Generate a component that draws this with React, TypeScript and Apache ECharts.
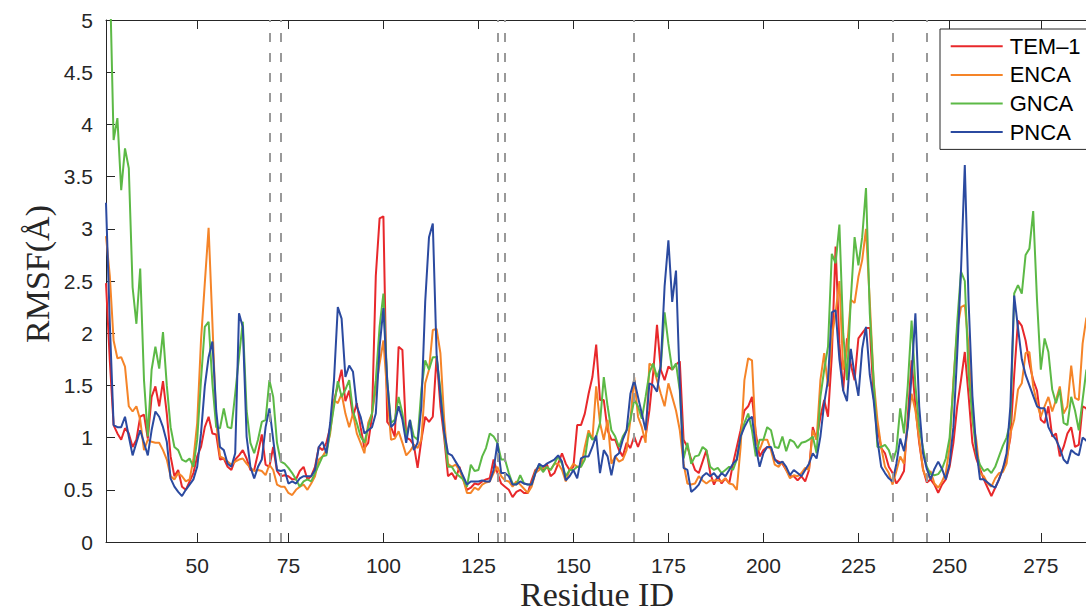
import React, { useEffect, useRef } from 'react';
import * as echarts from 'echarts';

// Residue numbering (Ambler-like): 26..290 with three residues absent from the alignment
const FIRST_RESIDUE = 26;
const LAST_RESIDUE = 290;
const MISSING_RESIDUES = [55, 239, 253];
const RESIDUES: string[] = [];
for (let r = FIRST_RESIDUE; r <= LAST_RESIDUE; r++) {
  if (!MISSING_RESIDUES.includes(r)) RESIDUES.push(String(r));
}

const TICK_RESIDUES = [50, 75, 100, 125, 150, 175, 200, 225, 250, 275];
const MARKER_RESIDUES = ['70', '73', '130', '132', '166', '234', '244'];

const SERIES_NAMES = ['TEM–1', 'ENCA', 'GNCA', 'PNCA'];
const SERIES_COLORS = ['#e8282b', '#f58428', '#5cb946', '#2b4aa0'];

const TEM1 = [
  2.48, 1.74, 1.12, 1.04, 0.98, 1.09, 1.04, 0.91, 0.98, 1.2,
  1.22, 0.99, 1.39, 1.49, 1.3, 1.54, 1.23, 0.82, 0.63, 0.69,
  0.53, 0.5, 0.58, 0.66, 0.82, 0.91, 1.1, 1.2, 1.04, 1.03,
  0.79, 0.8, 0.72, 0.69, 0.79, 0.83, 0.88, 0.8, 0.69, 0.69,
  0.85, 1.03, 0.74, 0.72, 0.91, 0.68, 0.63, 0.64, 0.63, 0.6,
  0.6, 0.68, 0.72, 0.6, 0.63, 0.72, 0.91, 0.88, 0.95, 1.1,
  1.35, 1.5, 1.65, 1.35, 1.45, 1.2, 1.33, 1.1, 0.9, 0.95,
  1.2, 2.55, 3.1, 3.12, 1.15, 1.1, 1.01, 1.87, 1.84, 1.0,
  0.98, 0.93, 0.71, 0.98, 1.2, 1.15, 1.2, 1.78, 1.3, 1.0,
  0.63, 0.66, 0.6, 0.72, 0.6, 0.5, 0.52, 0.56, 0.55, 0.58,
  0.6, 0.61, 0.79, 0.66, 0.56, 0.53, 0.5, 0.43, 0.48, 0.5,
  0.47, 0.47, 0.59, 0.69, 0.72, 0.69, 0.75, 0.63, 0.66, 0.75,
  0.85, 0.75, 0.69, 0.72, 1.12, 1.12, 1.23, 1.42, 1.58, 1.89,
  1.36, 1.36, 1.07, 0.98, 0.98, 0.88, 0.82, 0.95, 0.9, 1.01,
  0.91, 1.01, 1.01, 1.26, 1.62, 2.08, 1.65, 1.55, 1.68, 1.65,
  1.7, 1.73, 0.98, 0.91, 0.79, 0.69, 0.66, 0.77, 0.88, 0.66,
  0.55, 0.63, 0.56, 0.61, 0.56, 0.75, 0.91, 1.07, 1.26, 1.3,
  1.39, 1.04, 0.82, 0.88, 0.91, 0.9, 0.79, 0.77, 0.75, 0.69,
  0.63, 0.63, 0.59, 0.63, 0.58, 0.69, 1.1, 0.98, 1.2, 1.36,
  1.2, 1.78, 2.83, 1.9, 1.45, 1.95, 1.7, 1.55, 1.95, 2.0,
  2.05, 2.05, 1.39, 1.1, 0.9, 0.85, 0.72, 0.66, 0.56, 0.61,
  0.68, 1.2, 1.74, 1.3, 0.95, 0.7, 0.57, 0.6, 0.55, 0.47,
  0.55, 0.6, 0.72, 0.95, 1.3, 1.55, 1.82, 1.4, 0.95, 0.8,
  0.7, 0.6, 0.52, 0.44, 0.52, 0.6, 0.7, 0.8, 1.0, 1.6,
  2.12, 2.07, 1.93, 1.71, 1.55, 1.45, 1.17, 1.14, 1.3, 1.01,
  1.04, 0.82, 0.91, 1.04, 1.1, 0.91, 0.93, 1.3, 1.28, 1.15,
  1.2, 1.35,
];

const ENCA = [
  2.93, 2.55, 1.93, 1.76, 1.77, 1.68, 1.3, 1.25, 1.3, 1.17,
  0.88, 0.98, 0.96, 0.95, 0.95, 0.88, 0.79, 0.63, 0.6, 0.66,
  0.63, 0.58, 0.6, 0.79, 1.14, 1.93, 2.48, 3.01, 2.1, 1.15,
  0.82, 0.8, 0.77, 0.74, 0.77, 0.79, 0.8, 0.75, 0.71, 0.68,
  0.69, 0.68, 0.64, 0.74, 0.69, 0.55, 0.53, 0.53, 0.47, 0.45,
  0.5, 0.53, 0.55, 0.5, 0.56, 0.63, 0.79, 0.82, 0.88, 1.04,
  1.36, 1.33, 1.42, 1.23, 1.1, 1.23, 1.04, 0.95, 0.85, 1.14,
  1.23, 1.46, 1.71, 1.93, 1.42, 0.98, 0.99, 1.06, 0.95, 0.83,
  0.87, 0.93, 0.9, 0.98, 1.52, 1.65, 2.03, 2.04, 1.81, 1.17,
  0.75, 0.72, 0.74, 0.69, 0.6, 0.47, 0.47, 0.52, 0.5, 0.55,
  0.57, 0.58, 0.66, 0.72, 0.63, 0.59, 0.58, 0.53, 0.58, 0.55,
  0.51, 0.47, 0.53, 0.66, 0.69, 0.71, 0.71, 0.69, 0.75, 0.75,
  0.69, 0.58, 0.69, 0.75, 0.72, 0.72, 0.91, 1.07, 0.98, 1.49,
  1.14, 0.98, 1.17, 0.75, 0.82, 0.77, 0.79, 0.88, 1.17, 1.58,
  1.2, 1.1, 0.95, 1.71, 1.68, 1.55, 1.42, 1.3, 1.52, 1.39,
  1.26, 1.07, 0.75, 0.56, 0.55, 0.56, 0.63, 0.59, 0.56, 0.59,
  0.59, 0.59, 0.58, 0.61, 0.56, 0.55, 0.5, 0.91, 1.55, 1.76,
  1.74, 0.98, 0.88, 0.98, 0.98, 0.88, 0.74, 0.72, 0.77, 0.69,
  0.61, 0.64, 0.63, 0.66, 0.71, 0.69, 1.07, 0.98, 1.55, 1.81,
  1.49, 1.95, 2.2, 2.5, 1.65, 1.85, 2.32, 2.29, 2.54, 2.7,
  3.0, 2.3, 1.55, 1.17, 0.91, 0.72, 0.66, 0.55, 0.68, 0.82,
  0.75, 1.14, 1.42, 1.26, 0.98, 0.69, 0.6, 0.68, 0.56, 0.52,
  0.58, 0.66, 0.91, 1.55, 2.03, 2.25, 2.27, 1.87, 1.17, 0.98,
  0.66, 0.63, 0.56, 0.53, 0.61, 0.66, 0.67, 0.75, 1.04, 1.17,
  1.46, 1.52, 1.81, 1.82, 1.49, 1.33, 1.2, 1.3, 1.39, 1.25,
  1.36, 1.49, 1.23, 1.3, 1.69, 1.38, 1.36, 1.9, 2.15, 1.9,
  1.7, 1.8,
];

const GNCA = [
  6.2, 5.45, 3.85, 4.06, 3.37, 3.77, 3.58, 2.44, 2.09, 2.62,
  1.55, 1.01, 1.65, 1.87, 1.66, 2.01, 1.5, 1.1, 0.91, 0.88,
  0.79, 0.77, 0.8, 0.72, 0.98, 1.55, 2.06, 2.11, 1.52, 1.1,
  1.09, 1.28, 1.1, 1.09, 1.42, 1.77, 2.11, 1.26, 0.95, 0.85,
  0.98, 1.15, 1.17, 1.55, 1.39, 0.95, 0.77, 0.75, 0.71, 0.66,
  0.6, 0.53, 0.58, 0.6, 0.58, 0.66, 0.74, 0.82, 0.83, 1.07,
  1.3, 1.54, 1.39, 1.46, 1.55, 1.25, 1.14, 1.01, 0.95, 1.1,
  1.23, 1.55, 2.06, 2.38, 1.55, 1.14, 1.17, 1.39, 1.23, 1.01,
  1.17, 1.01, 0.98, 1.46, 1.74, 1.65, 1.77, 1.77, 1.46, 1.04,
  0.72, 0.72, 0.66, 0.63, 0.6, 0.53, 0.74, 0.68, 0.69, 0.82,
  0.9, 1.04, 1.01, 0.95, 0.79, 0.79, 0.66, 0.56, 0.55, 0.64,
  0.56, 0.55, 0.55, 0.67, 0.74, 0.67, 0.72, 0.69, 0.75, 0.82,
  0.75, 0.63, 0.69, 0.69, 0.72, 0.72, 0.79, 1.04, 0.98, 1.01,
  1.14, 1.58, 1.3, 1.07, 1.01, 0.91, 1.01, 1.07, 1.17, 1.36,
  1.3, 1.18, 1.39, 1.62, 1.71, 1.58, 1.68, 2.2, 1.9, 1.65,
  1.71, 1.45, 0.8, 0.95, 0.75, 0.82, 0.83, 0.91, 0.88, 0.72,
  0.69, 0.71, 0.66, 0.69, 0.72, 0.69, 0.79, 1.01, 1.14, 1.23,
  1.07, 0.82, 0.98, 0.98, 1.1, 1.07, 0.91, 0.9, 1.01, 0.87,
  0.98, 0.96, 0.9, 0.95, 0.96, 0.98, 1.01, 0.85, 1.39, 1.65,
  1.87, 2.76, 2.67, 3.04, 2.0, 1.55, 2.32, 2.92, 2.65, 2.92,
  3.39, 2.19, 1.55, 0.91, 0.91, 0.93, 0.88, 0.77, 0.88, 1.28,
  1.04, 1.5, 2.12, 1.5, 1.1, 0.9, 0.72, 0.65, 0.64, 0.65,
  0.7, 0.8, 1.0, 1.5, 2.1, 2.59, 2.5, 1.6, 1.2, 0.85,
  0.74, 0.68, 0.7, 0.66, 0.72, 0.82, 0.92, 1.0, 1.15, 2.38,
  2.46, 2.38, 2.75, 2.81, 3.17, 2.32, 1.65, 1.95, 1.82, 1.46,
  1.33, 1.46, 1.14, 1.12, 1.39, 1.26, 1.07, 1.36, 1.65, 1.5,
  1.4, 1.6,
];

const PNCA = [
  3.25, 2.1, 1.12, 1.1, 1.1, 1.2, 1.01, 0.83, 0.95, 1.07,
  0.95, 0.83, 1.07, 1.25, 1.2, 1.1, 0.96, 0.61, 0.53, 0.48,
  0.44, 0.5, 0.55, 0.6, 0.72, 1.04, 1.49, 1.77, 1.92, 1.26,
  0.91, 0.88, 0.75, 0.72, 0.85, 2.19, 2.06, 1.01, 0.72, 0.61,
  0.72, 0.79, 1.1, 1.28, 0.98, 0.69, 0.68, 0.69, 0.56, 0.58,
  0.56, 0.61, 0.63, 0.63, 0.63, 0.69, 0.91, 0.96, 0.85, 1.14,
  1.55, 2.25, 2.14, 1.58, 1.69, 1.63, 1.3, 1.2, 1.04, 1.07,
  1.1, 1.23, 1.87, 2.24, 1.55, 1.1, 1.14, 1.3, 1.17, 0.95,
  1.17, 0.88, 0.95, 1.3, 2.3, 2.92, 3.05, 1.8, 1.4, 1.05,
  0.85, 0.83, 0.77, 0.71, 0.63, 0.55, 0.58, 0.58, 0.58, 0.59,
  0.58, 0.58, 0.69, 0.95, 0.66, 0.66, 0.63, 0.55, 0.55, 0.58,
  0.56, 0.55, 0.55, 0.66, 0.75, 0.72, 0.75, 0.77, 0.79, 0.83,
  0.77, 0.59, 0.63, 0.69, 0.61, 0.8, 0.82, 0.82, 0.91, 1.02,
  0.66, 0.88, 0.82, 0.64, 0.82, 0.85, 0.98, 1.07, 1.42, 1.55,
  1.39, 1.23, 1.07, 1.52, 1.5, 1.44, 1.7, 2.45, 2.89, 2.3,
  2.6, 1.5, 0.71, 0.69, 0.48, 0.51, 0.55, 0.63, 0.66, 0.63,
  0.66, 0.61, 0.66, 0.63, 0.69, 0.75, 0.79, 1.01, 1.1, 1.17,
  1.2, 0.91, 0.72, 0.85, 0.91, 0.91, 0.79, 0.75, 0.77, 0.72,
  0.64, 0.69, 0.66, 0.63, 0.69, 0.75, 0.85, 0.8, 1.01, 1.33,
  1.55, 2.2, 2.22, 1.75, 1.45, 1.35, 1.85, 1.6, 1.4, 1.85,
  2.06, 1.6, 1.36, 0.98, 0.72, 0.66, 0.61, 0.58, 0.75, 0.99,
  0.87, 1.1, 1.6, 2.19, 1.3, 0.85, 0.7, 0.6, 0.7, 0.77,
  0.7, 0.6, 0.75, 1.1, 1.8, 2.6, 3.61, 2.3, 1.4, 0.9,
  0.6, 0.6, 0.57, 0.54, 0.52, 0.6, 0.7, 0.85, 1.3, 2.36,
  2.05, 1.75, 1.6, 1.5, 1.4, 1.3, 1.28, 1.28, 1.1, 1.03,
  0.98, 0.9, 0.79, 0.75, 0.88, 0.85, 0.83, 1.0, 0.97, 0.9,
  1.0, 1.1,
];

const SERIES_DATA = [TEM1, ENCA, GNCA, PNCA];

const AXIS_COLOR = '#262626';
const SANS = '"Liberation Sans", Arial, sans-serif';
const SERIF = '"Liberation Serif", "Times New Roman", serif';

const isTick = (_idx: number, value: string) => TICK_RESIDUES.includes(Number(value));

export default function App() {
  const ref = useRef<HTMLDivElement>(null);

  useEffect(() => {
    if (!ref.current) return;
    const chart = echarts.init(ref.current, null, { renderer: 'svg' });

    const series: any[] = SERIES_NAMES.map((name, k) => ({
      name,
      type: 'line',
      data: SERIES_DATA[k],
      symbol: 'none',
      showSymbol: false,
      clip: true,
      lineStyle: { color: SERIES_COLORS[k], width: 2 },
      itemStyle: { color: SERIES_COLORS[k] },
      emphasis: { disabled: true },
    }));

    series[0].markLine = {
      silent: true,
      symbol: ['none', 'none'],
      label: { show: false },
      lineStyle: { color: '#999999', width: 2, type: [9, 11] },
      data: MARKER_RESIDUES.map((r) => ({ xAxis: r })),
    };

    chart.setOption({
      animation: false,
      backgroundColor: '#ffffff',
      grid: { left: 106, top: 20, right: 12.2, bottom: 69, containLabel: false },
      legend: {
        show: true,
        orient: 'vertical',
        left: 940,
        top: 29,
        icon: 'rect',
        itemWidth: 52,
        itemHeight: 2,
        itemGap: 0,
        padding: [3, 40, 3, 10.7],
        borderColor: AXIS_COLOR,
        borderWidth: 1,
        backgroundColor: '#ffffff',
        selectedMode: false,
        textStyle: { fontFamily: SANS, fontSize: 22, color: '#000', lineHeight: 28.6, padding: [0, 0, 0, 2] },
        data: SERIES_NAMES,
      },
      xAxis: [
        {
          type: 'category',
          data: RESIDUES,
          boundaryGap: false,
          position: 'bottom',
          axisLine: { show: true, lineStyle: { color: AXIS_COLOR, width: 1 } },
          axisTick: { show: true, inside: true, length: 9, interval: isTick, lineStyle: { color: AXIS_COLOR } },
          axisLabel: { show: true, interval: isTick, margin: 13, fontFamily: SANS, fontSize: 21, color: AXIS_COLOR },
          splitLine: { show: false },
        },
        {
          type: 'category',
          data: RESIDUES,
          boundaryGap: false,
          position: 'top',
          axisLine: { show: true, lineStyle: { color: AXIS_COLOR, width: 1 } },
          axisTick: { show: true, inside: true, length: 9, interval: isTick, lineStyle: { color: AXIS_COLOR } },
          axisLabel: { show: false },
          splitLine: { show: false },
        },
      ],
      yAxis: {
        type: 'value',
        min: 0,
        max: 5,
        interval: 0.5,
        axisLine: { show: true, lineStyle: { color: AXIS_COLOR, width: 1 } },
        axisTick: { show: true, inside: true, length: 9, lineStyle: { color: AXIS_COLOR } },
        axisLabel: { margin: 13, fontFamily: SANS, fontSize: 21, color: AXIS_COLOR },
        splitLine: { show: false },
      },
      graphic: [
        {
          type: 'text',
          x: 597,
          y: 594,
          silent: true,
          style: {
            text: 'Residue ID',
            fontFamily: SERIF,
            fontSize: 34,
            fill: AXIS_COLOR,
            align: 'center',
            verticalAlign: 'middle',
          },
        },
        {
          type: 'text',
          x: 37,
          y: 274,
          rotation: Math.PI / 2,
          silent: true,
          style: {
            text: 'RMSF(Å)',
            fontFamily: SERIF,
            fontSize: 34,
            fill: AXIS_COLOR,
            align: 'center',
            verticalAlign: 'middle',
          },
        },
      ],
      series,
    });

    return () => chart.dispose();
  }, []);

  return (
    <div
      style={{
        position: 'fixed',
        left: 0,
        top: 0,
        width: 1086,
        height: 611,
        overflow: 'hidden',
        background: '#ffffff',
      }}
    >
      <div ref={ref} style={{ width: 1110, height: 611 }} />
    </div>
  );
}
